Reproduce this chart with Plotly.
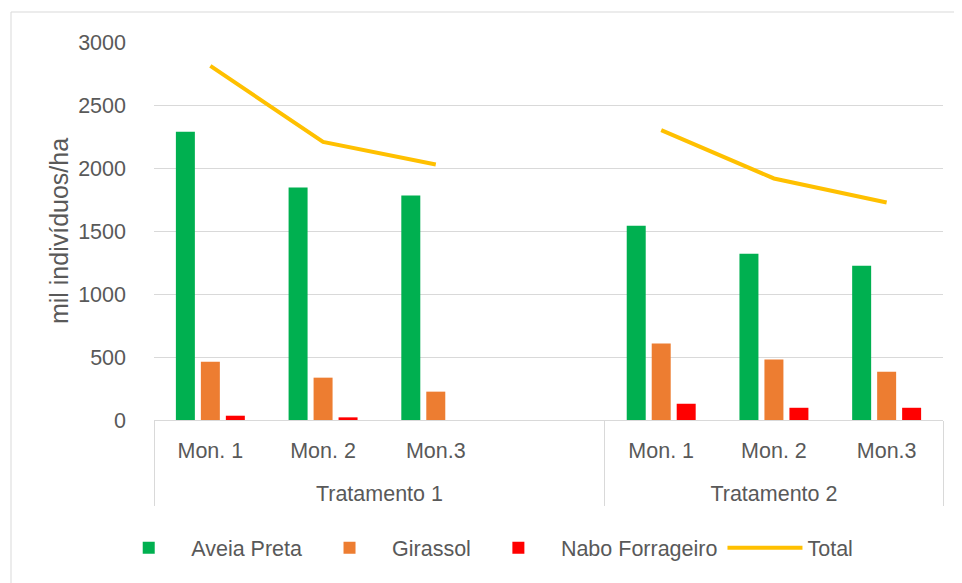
import plotly.graph_objects as go

groups = ["Tratamento 1", "Tratamento 1", "Tratamento 1", "Tratamento 1",
          "Tratamento 2", "Tratamento 2", "Tratamento 2"]
monitor = ["Mon. 1", "Mon. 2", "Mon.3", " ", "Mon. 1", "Mon. 2", "Mon.3"]

aveia = [2288, 1845, 1782, None, 1541, 1319, 1224]
girassol = [463, 336, 225, None, 608, 481, 383]
nabo = [34, 21, 0, None, 129, 97, 97]
total = [2810, 2207, 2028, None, 2300, 1917, 1726]

series_names = ["Aveia Preta", "Girassol", "Nabo Forrageiro", "Total"]
colors = ["#00B050", "#ED7D31", "#FF0000", "#FFC000"]

FONT = "Liberation Sans"
GRAY = "#595959"
FS = 21.5
x = [["<br>" + g for g in groups], monitor]

fig = go.Figure()
for name, vals, col in zip(series_names[:3], [aveia, girassol, nabo], colors[:3]):
    fig.add_trace(go.Bar(x=x, y=vals, name=name, marker=dict(color=col, line=dict(width=0))))
fig.add_trace(go.Scatter(x=x, y=total, name=series_names[3], mode="lines",
                         line=dict(color=colors[3], width=4), connectgaps=False))

# page body has an 8px margin, so the figure is drawn offset by (8, 8)
W, H = 954, 575
ml, mr, mt, mb = 146, 19, 34, 163
fig.update_layout(
    width=W, height=H,
    margin=dict(l=ml, r=mr, t=mt, b=mb),
    paper_bgcolor="white", plot_bgcolor="white",
    barmode="group", bargap=0.335, bargroupgap=0.24,
    font=dict(family=FONT, size=FS, color=GRAY),
    showlegend=True,
    legend=dict(orientation="h", x=0.416, xanchor="center", y=-0.338, yanchor="middle",
                font=dict(family=FONT, size=FS, color=GRAY), itemwidth=75,
                traceorder="normal"),
    xaxis=dict(type="multicategory", showline=True, linecolor="#D9D9D9", linewidth=1,
               showdividers=True, dividercolor="#D9D9D9", dividerwidth=1,
               tickfont=dict(family=FONT, size=FS, color=GRAY), showgrid=False,
               ticklabelstandoff=11,
               range=[-0.5, 6.5]),
    yaxis=dict(range=[0, 3000], tickvals=[0, 500, 1000, 1500, 2000, 2500, 3000],
               showgrid=True, gridcolor="#D9D9D9", gridwidth=1, zeroline=False,
               showline=False, ticklabelstandoff=27,
               tickfont=dict(family=FONT, size=FS, color=GRAY),
               title=dict(text="mil indivíduos/ha", standoff=2,
                          font=dict(family=FONT, size=25, color=GRAY))),
)

pw = W - ml - mr
ph = H - mt - mb
fig.add_shape(type="rect", xref="paper", yref="paper",
              x0=(3 - ml) / pw, x1=(W + 20 - ml) / pw,
              y0=-(mb + 20) / ph, y1=(H - mb - 4) / ph,
              line=dict(color="#D9D9D9", width=1), fillcolor="rgba(0,0,0,0)", layer="below")

fig.write_html("out.html")
